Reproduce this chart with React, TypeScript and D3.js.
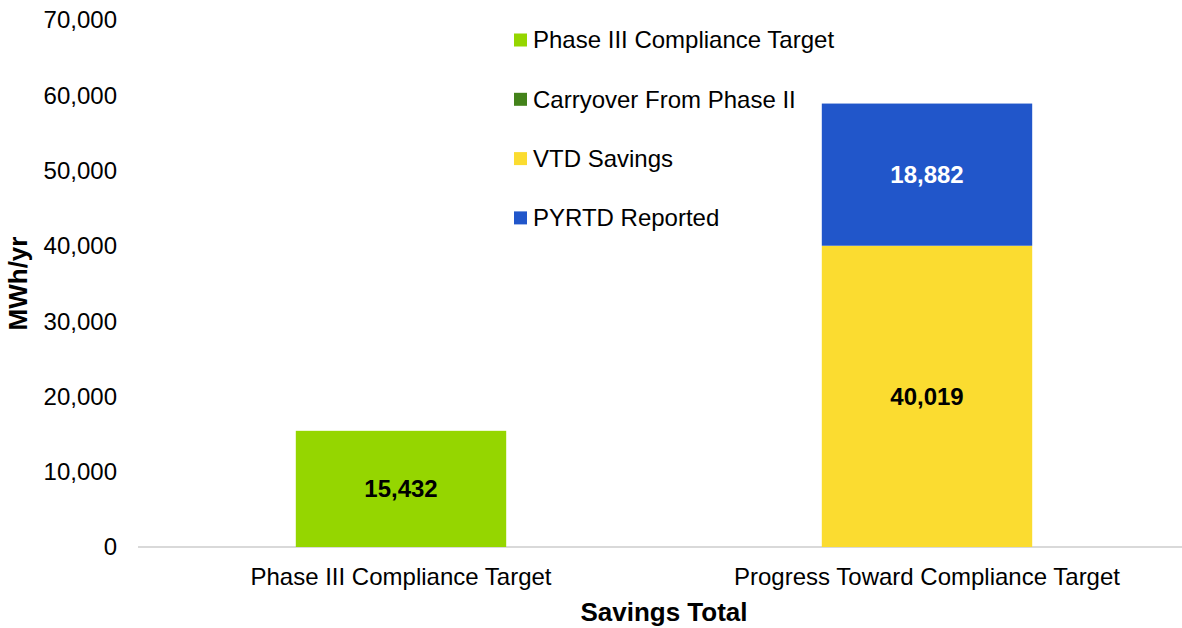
import React from 'react'
import * as d3 from 'd3'

const categories = ['Phase III Compliance Target', 'Progress Toward Compliance Target']
const seriesNames = ['Phase III Compliance Target', 'Carryover From Phase II', 'VTD Savings', 'PYRTD Reported']
const phase3Target = [15432, 0]
const carryover = [0, 0]
const vtdSavings = [0, 40019]
const pyrtdReported = [0, 18882]
const yTicks = [0, 10000, 20000, 30000, 40000, 50000, 60000, 70000]

const colors = ['#95d600', '#43821a', '#fbdc30', '#2156ca']
const labelColors = ['#000', '#fff', '#000', '#fff']

export default function App() {
  const width = 1182
  const height = 628
  const marginLeft = 138
  const marginTop = 20
  const plotRight = 1190
  const baseY = 547
  const font = '"Liberation Sans", Arial, sans-serif'

  const rows = categories.map((c, i) => ({
    cat: c,
    [seriesNames[0]]: phase3Target[i],
    [seriesNames[1]]: carryover[i],
    [seriesNames[2]]: vtdSavings[i],
    [seriesNames[3]]: pyrtdReported[i],
  }))
  const stacked = d3.stack<any>().keys(seriesNames)(rows)

  const x = d3.scaleBand().domain(categories).range([marginLeft, plotRight]).paddingInner(0.6).paddingOuter(0.3)
  const y = d3.scaleLinear().domain([0, 70000]).range([baseY, marginTop])
  const fmt = d3.format(',')

  return (
    <div style={{ position: 'absolute', left: 0, top: 0 }}>
      <svg width={width} height={height} style={{ display: 'block', fontFamily: font }}>
        <rect width={width} height={height} fill="#fff" />
        {/* y ticks */}
        {yTicks.map(t => (
          <text key={t} x={117} y={y(t)} dy="0.35em" textAnchor="end" fontSize={24} fill="#000">{fmt(t)}</text>
        ))}
        <line x1={marginLeft} x2={plotRight} y1={baseY} y2={baseY} stroke="#d9d9d9" strokeWidth={2} />

        {/* bars */}
        {stacked.map((s, si) => (
          <g key={s.key} fill={colors[si]}>
            {s.map((d, i) => {
              const v = d[1] - d[0]
              if (!v) return null
              return (
                <g key={i}>
                  <rect x={x(categories[i])} width={x.bandwidth()} y={y(d[1])} height={y(d[0]) - y(d[1])} />
                  <text x={x(categories[i])! + x.bandwidth() / 2} y={(y(d[0]) + y(d[1])) / 2} dy="0.35em"
                    textAnchor="middle" fontSize={24} fontWeight="bold" fill={labelColors[si]}>{fmt(v)}</text>
                </g>
              )
            })}
          </g>
        ))}

        {/* category labels */}
        {categories.map(c => (
          <text key={c} x={x(c)! + x.bandwidth() / 2} y={577} dy="0.35em" textAnchor="middle" fontSize={24} fill="#000">{c}</text>
        ))}

        {/* axis titles */}
        <text x={664} y={612} dy="0.35em" textAnchor="middle" fontSize={26} fontWeight="bold" fill="#000">Savings Total</text>
        <text transform={`translate(18,${(baseY + marginTop) / 2}) rotate(-90)`} dy="0.35em" textAnchor="middle"
          fontSize={26} fontWeight="bold" fill="#000">MWh/yr</text>

        {/* legend */}
        {seriesNames.map((n, i) => (
          <g key={n} transform={`translate(514,${40 + i * 59.3})`}>
            <rect x={0} y={-6.5} width={13} height={13} fill={colors[i]} />
            <text x={19} y={0} dy="0.35em" fontSize={24} fill="#000">{n}</text>
          </g>
        ))}
      </svg>
    </div>
  )
}
